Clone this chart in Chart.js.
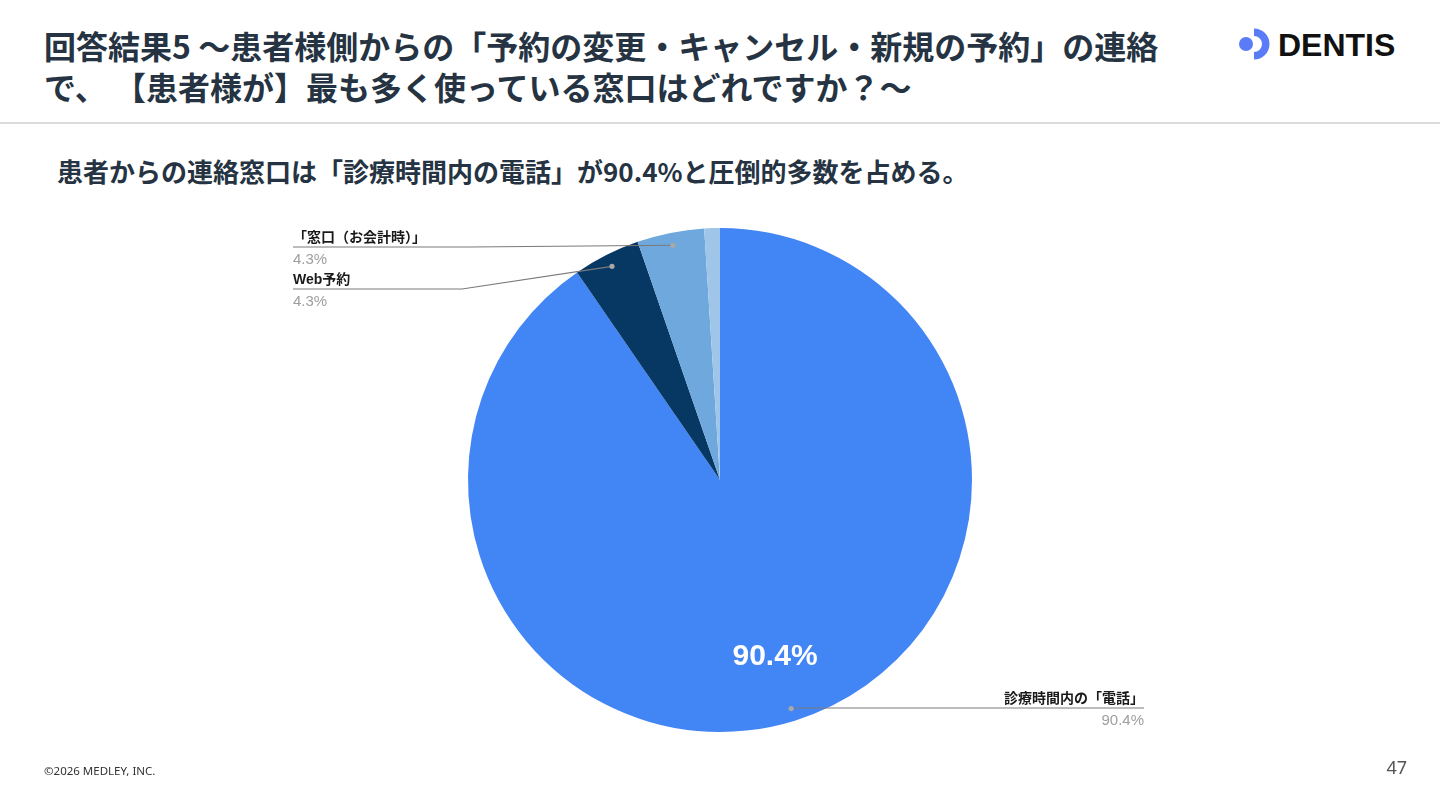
<!DOCTYPE html>
<html lang="ja">
<head>
<meta charset="utf-8">
<script src="https://cdn.jsdelivr.net/npm/chart.js@4.4.1/dist/chart.umd.min.js"></script>
<style>
  html, body { margin:0; padding:0; background:#fff; }
  body { width:1440px; height:810px; position:relative; overflow:hidden; font-family:"Noto Sans CJK JP","Noto Sans",sans-serif; }
  .t { position:absolute; white-space:nowrap; color:#253342; font-weight:700; }
  #chart { position:absolute; left:0; top:0; }
</style>
</head>
<body>
<div class="t" style="left:44px;top:29px;font-size:32px;line-height:33px;">回答結果5 〜患者様側からの「予約の変更・キャンセル・新規の予約」の連絡</div>
<div class="t" style="left:44px;top:70px;font-size:32px;line-height:33px;">で、 【患者様が】最も多く使っている窓口はどれですか？〜</div>
<div style="position:absolute;left:0;top:122px;width:1440px;height:2px;background:#dcdcdc;"></div>
<div class="t" style="left:57px;top:158px;font-size:26px;line-height:26px;">患者からの連絡窓口は「診療時間内の電話」が90.4%と圧倒的多数を占める。</div>

<svg style="position:absolute;left:1230px;top:24px;" width="180" height="40" viewBox="1230 24 180 40">
  <circle cx="1246" cy="44" r="7" fill="#5a7cf6"/>
  <path d="M1254 28.5 A15.5 15.5 0 0 1 1254 59.5 L1254 52 A8 8 0 0 0 1254 36 Z" fill="#5a7cf6"/>
  <text x="1278" y="56" font-family="'Liberation Sans', Arial, sans-serif" font-weight="700" font-size="32" fill="#111">DENTIS</text>
</svg>

<canvas id="chart" width="1440" height="810"></canvas>

<div style="position:absolute;left:44px;top:764px;font-size:11.5px;line-height:14px;color:#333;font-family:'Noto Sans','Noto Sans CJK JP',sans-serif;">©2026 MEDLEY, INC.</div>
<div style="position:absolute;right:33px;top:756px;font-size:18px;line-height:22px;color:#555;font-family:'Noto Sans',sans-serif;">47</div>

<script>
const categories = ["診療時間内の「電話」", "Web予約", "「窓口（お会計時）」", "その他"];
const values = [90.4, 4.3, 4.3, 1.0];
const valueLabels = ["90.4%", "4.3%", "4.3%", "1.0%"];
const colors = ["#4285f4", "#073763", "#6fa8dc", "#9fc5e8"];

// callout layout (styling only)
const callouts = {
  0: { side: "right", textX: 1144, lineY: 708, elbowX: null },
  1: { side: "left",  textX: 293,  lineY: 289, elbowX: 462 },
  2: { side: "left",  textX: 293,  lineY: 247, elbowX: 470 }
};

const calloutPlugin = {
  id: "callouts",
  afterDatasetsDraw(chart) {
    const ctx = chart.ctx;
    const meta = chart.getDatasetMeta(0);
    const font = "'Liberation Sans', Arial, 'Noto Sans CJK JP', sans-serif";
    meta.data.forEach((arc, i) => {
      const p = arc.getProps(["x","y","startAngle","endAngle","outerRadius"], true);
      const mid = (p.startAngle + p.endAngle) / 2;
      if (i === 0) {
        const r = p.outerRadius * 0.735;
        ctx.save();
        ctx.fillStyle = "#ffffff";
        ctx.font = "700 30px " + font;
        ctx.textAlign = "center";
        ctx.textBaseline = "middle";
        ctx.fillText(valueLabels[i], p.x + Math.cos(mid) * r, p.y + Math.sin(mid) * r);
        ctx.restore();
      }
      const c = callouts[i];
      if (!c) return;
      const rd = p.outerRadius * 0.95;
      const dx = p.x + Math.cos(mid) * rd;
      const dy = p.y + Math.sin(mid) * rd;
      ctx.save();
      ctx.strokeStyle = "#7a7a7a";
      ctx.lineWidth = 1.2;
      ctx.beginPath();
      ctx.moveTo(dx, dy);
      if (c.elbowX !== null) ctx.lineTo(c.elbowX, c.lineY);
      else ctx.lineTo(dx, c.lineY);
      ctx.lineTo(c.textX, c.lineY);
      ctx.stroke();
      ctx.fillStyle = "#a8a8a8";
      ctx.beginPath();
      ctx.arc(dx, dy, 2.6, 0, Math.PI * 2);
      ctx.fill();
      ctx.textAlign = c.side === "right" ? "right" : "left";
      ctx.textBaseline = "alphabetic";
      ctx.fillStyle = "#1a1a1a";
      ctx.font = "700 14px " + font;
      ctx.fillText(categories[i], c.textX, c.lineY - 5);
      ctx.fillStyle = "#9e9e9e";
      ctx.font = "400 15px " + font;
      ctx.fillText(valueLabels[i], c.textX, c.lineY + 17);
      ctx.restore();
    });
  }
};

new Chart(document.getElementById("chart"), {
  type: "pie",
  data: {
    labels: categories,
    datasets: [{ data: values, backgroundColor: colors, borderWidth: 0 }]
  },
  options: {
    responsive: false,
    animation: false,
    layout: { padding: { top: 228, bottom: 78, left: 0, right: 0 } },
    plugins: { legend: { display: false }, tooltip: { enabled: false } }
  },
  plugins: [calloutPlugin]
});
</script>
</body>
</html>
